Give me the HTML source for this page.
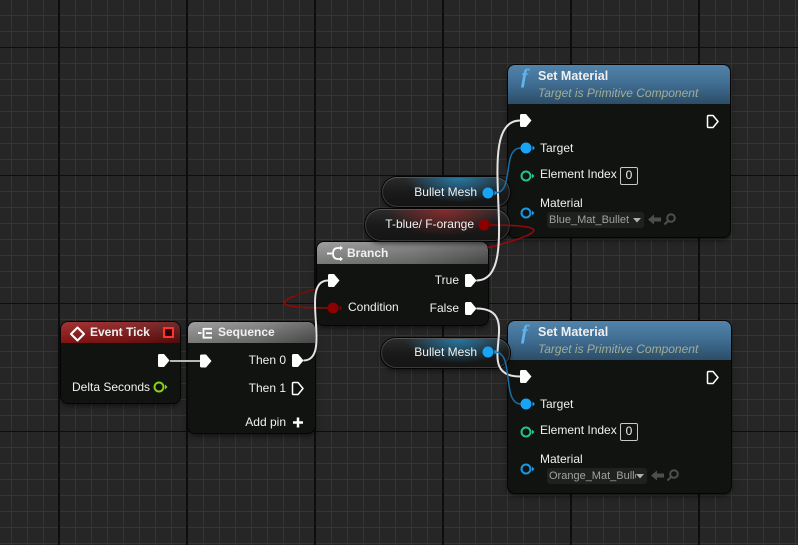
<!DOCTYPE html>
<html><head><meta charset="utf-8">
<style>
html,body{margin:0;padding:0;}
body{width:798px;height:545px;overflow:hidden;position:relative;background:#262626;font-family:"Liberation Sans",sans-serif;}
#grid{position:absolute;left:0;top:0;width:798px;height:545px;
background-image:
 linear-gradient(to right,#0d0d0d 0,#0d0d0d 2px,transparent 2px),
 linear-gradient(to bottom,#0d0d0d 0,#0d0d0d 1px,transparent 1px),
 linear-gradient(to right,#353535 0,#353535 1px,transparent 1px),
 linear-gradient(to bottom,#353535 0,#353535 1px,transparent 1px);
background-size:128px 545px,798px 128px,16px 545px,798px 16px;
background-position:58px 0,0 47px,11px 0,0 15px;}
.node{position:absolute;background:#111311;border-radius:7px;box-shadow:0 0 0 1px #050505,0 3px 6px rgba(0,0,0,.55);}
.hdr{position:absolute;left:0;top:0;right:0;border-radius:7px 7px 0 0;}
.red{background:linear-gradient(to bottom,rgba(255,255,255,.12),rgba(0,0,0,.15)),linear-gradient(to right,#941818 0%,#821414 55%,#5a0e0e 100%);}
.gray{background:linear-gradient(to bottom,rgba(255,255,255,.18),rgba(0,0,0,.12)),linear-gradient(to right,#8a8a8a 0%,#737373 55%,#4e4e4e 100%);}
.blue{background:linear-gradient(to bottom,#5283aa 0%,#416f94 45%,#2c4d68 100%);}
.pill{position:absolute;border-radius:16px;box-shadow:0 0 0 1px #050505,inset 0 1px 0 #555,inset 0 0 0 1px #3a3a3a,0 3px 5px rgba(0,0,0,.5);}
.t{position:absolute;color:#f0f0f0;font-size:12px;line-height:14px;white-space:nowrap;}
.b{font-weight:bold;}
.sub{position:absolute;color:#a2ad95;font-size:12px;line-height:14px;font-style:italic;white-space:nowrap;}
.f{position:absolute;color:#62b4f0;font-family:"Liberation Serif",serif;font-style:italic;font-weight:bold;font-size:21px;line-height:20px;}
.box{position:absolute;border:1px solid #c8c8c8;border-radius:2px;color:#eee;font-size:12px;line-height:15px;text-align:center;box-sizing:border-box;}
.dd{position:absolute;background:#1f211f;border-radius:3px;color:#a0a0a0;font-size:11px;line-height:16px;white-space:nowrap;overflow:hidden;box-sizing:border-box;padding-left:2px;}
svg{position:absolute;left:0;top:0;}
</style></head>
<body>
<div id="grid"></div>

<svg width="798" height="545">
<path d="M490,225 C690,225 128,308 328,308" stroke="#7e0a0a" stroke-width="1.5" fill="none"/>
</svg>

<div class="node" style="left:61px;top:322px;width:119px;height:81px;">
 <div class="hdr red" style="height:21px;"></div>
</div>
<div class="node" style="left:188px;top:322px;width:127px;height:111px;">
 <div class="hdr gray" style="height:21px;"></div>
</div>
<div class="node" style="left:317px;top:242px;width:171px;height:83px;">
 <div class="hdr gray" style="height:22px;"></div>
</div>
<div class="node" style="left:508px;top:65px;width:222px;height:172px;">
 <div class="hdr blue" style="height:39px;"></div>
</div>
<div class="node" style="left:508px;top:321px;width:223px;height:172px;">
 <div class="hdr blue" style="height:39px;"></div>
</div>

<div class="pill" style="left:382px;top:177px;width:128px;height:30px;background:radial-gradient(ellipse 42% 85% at 60% 0%,rgba(40,130,180,.9),rgba(40,130,180,0) 100%),linear-gradient(#2c2c2c,#1a1a1a 50%,#141414);"></div>
<div class="pill" style="left:365px;top:209px;width:145px;height:32px;background:radial-gradient(ellipse 40% 85% at 55% 0%,rgba(150,45,45,.85),rgba(150,45,45,0) 100%),linear-gradient(#2c2c2c,#1a1a1a 50%,#141414);"></div>
<div class="pill" style="left:381px;top:338px;width:129px;height:30px;background:radial-gradient(ellipse 42% 85% at 60% 0%,rgba(40,130,180,.9),rgba(40,130,180,0) 100%),linear-gradient(#2c2c2c,#1a1a1a 50%,#141414);"></div>

<div class="box" style="left:620px;top:167px;width:18px;height:18px;">0</div>
<div class="box" style="left:620px;top:423px;width:18px;height:18px;">0</div>
<div class="dd" style="left:547px;top:212px;width:97px;height:16px;">Blue_Mat_Bullet</div>
<div class="dd" style="left:547px;top:468px;width:100px;height:16px;"><span style="display:inline-block;width:87px;overflow:hidden;vertical-align:top;">Orange_Mat_Bullet</span></div>

<svg width="798" height="545">
<defs>
 <clipPath id="rc"><rect x="487" y="0" width="311" height="545"/><rect x="0" y="296" width="334" height="249"/></clipPath>
</defs>
<path d="M490,225 C690,225 128,308 328,308" stroke="#8c0b0b" stroke-width="1.6" fill="none" clip-path="url(#rc)"/>
<path d="M170,361 H200" stroke="#b8b8b8" stroke-width="2" fill="none"/>
<path d="M303.5,360.5 C333.5,360.5 298,280.5 328,280.5" stroke="#e4e4e4" stroke-width="2" fill="none"/>
<path d="M476.5,280.5 C526.5,280.5 470,120.5 520,120.5" stroke="#e4e4e4" stroke-width="2" fill="none"/>
<path d="M476.5,308.5 C526.5,308.5 470,376.5 520,376.5" stroke="#e4e4e4" stroke-width="2" fill="none"/>
<path d="M495,193 C515,193 501,148 521,148" stroke="#1a6ea3" stroke-width="1.5" fill="none"/>
<path d="M495,352 C515,352 501,404 521,404" stroke="#1a6ea3" stroke-width="1.5" fill="none"/>

<g fill="#ffffff">
<path d="M159.5,354 H164 L169.5,360.5 L164,367 H159.5 Q158,367 158,365.5 V355.5 Q158,354 159.5,354 Z"/>
<path d="M201.5,354.5 H206 L211.5,361 L206,367.5 H201.5 Q200,367.5 200,366 V356 Q200,354.5 201.5,354.5 Z"/>
<path d="M293.5,354 H298 L303.5,360.5 L298,367 H293.5 Q292,367 292,365.5 V355.5 Q292,354 293.5,354 Z"/>
<path d="M329.5,274 H334 L339.5,280.5 L334,287 H329.5 Q328,287 328,285.5 V275.5 Q328,274 329.5,274 Z"/>
<path d="M466.5,274 H471 L476.5,280.5 L471,287 H466.5 Q465,287 465,285.5 V275.5 Q465,274 466.5,274 Z"/>
<path d="M466.5,302 H471 L476.5,308.5 L471,315 H466.5 Q465,315 465,313.5 V303.5 Q465,302 466.5,302 Z"/>
<path d="M521.5,114 H526 L531.5,120.5 L526,127 H521.5 Q520,127 520,125.5 V115.5 Q520,114 521.5,114 Z"/>
<path d="M521.5,370 H526 L531.5,376.5 L526,383 H521.5 Q520,383 520,381.5 V371.5 Q520,370 521.5,370 Z"/>
</g>
<g fill="none" stroke="#ffffff" stroke-width="1.5" stroke-linejoin="round">
<path d="M293.5,382.5 H298 L303,388.5 L298,394.5 H293.5 Q292.5,394.5 292.5,393.5 V383.5 Q292.5,382.5 293.5,382.5 Z"/>
<path d="M708.5,115.5 H713 L718,121.5 L713,127.5 H708.5 Q707.5,127.5 707.5,126.5 V116.5 Q707.5,115.5 708.5,115.5 Z"/>
<path d="M708.5,371.5 H713 L718,377.5 L713,383.5 H708.5 Q707.5,383.5 707.5,382.5 V372.5 Q707.5,371.5 708.5,371.5 Z"/>
</g>

<circle cx="159" cy="387" r="4.5" fill="none" stroke="#86d01e" stroke-width="2"/>
<polygon points="165,384.5 167.5,387 165,389.5" fill="#86d01e"/>
<circle cx="333" cy="308" r="5.5" fill="#8c0000"/>
<polygon points="339.5,305.5 342,308 339.5,310.5" fill="#8c0000"/>
<circle cx="488" cy="193" r="5.5" fill="#19a3f5"/>
<polygon points="494.5,190.5 497,193 494.5,195.5" fill="#19a3f5"/>
<circle cx="488" cy="352" r="5.5" fill="#19a3f5"/>
<polygon points="494.5,349.5 497,352 494.5,354.5" fill="#19a3f5"/>
<circle cx="484" cy="225" r="5.5" fill="#8c0000"/>
<polygon points="490.5,222.5 493,225 490.5,227.5" fill="#8c0000"/>
<circle cx="526" cy="148" r="5.5" fill="#19a3f5"/>
<polygon points="532.5,145.5 535,148 532.5,150.5" fill="#19a3f5"/>
<circle cx="526" cy="176" r="4.5" fill="none" stroke="#22c68c" stroke-width="2"/>
<polygon points="532,173.5 534.5,176 532,178.5" fill="#22c68c"/>
<circle cx="526" cy="213" r="4.5" fill="none" stroke="#1a98e6" stroke-width="2"/>
<polygon points="532,210.5 534.5,213 532,215.5" fill="#1a98e6"/>
<circle cx="526" cy="404" r="5.5" fill="#19a3f5"/>
<polygon points="532.5,401.5 535,404 532.5,406.5" fill="#19a3f5"/>
<circle cx="526" cy="432" r="4.5" fill="none" stroke="#22c68c" stroke-width="2"/>
<polygon points="532,429.5 534.5,432 532,434.5" fill="#22c68c"/>
<circle cx="526" cy="469" r="4.5" fill="none" stroke="#1a98e6" stroke-width="2"/>
<polygon points="532,466.5 534.5,469 532,471.5" fill="#1a98e6"/>

<path d="M298,417.5 V427.5 M293,422.5 H303" stroke="#ffffff" stroke-width="2.5"/>

<polygon points="77.5,327.5 84,334 77.5,340.5 71,334" fill="none" stroke="#ffffff" stroke-width="2" stroke-linejoin="round"/>
<rect x="164" y="328" width="9" height="9" fill="#2a0404" stroke="#ff3232" stroke-width="2"/>
<g stroke="#ffffff" stroke-width="1.8" fill="none">
<path d="M198,333 H201.5"/>
<path d="M203.5,328 V338.5"/>
<path d="M203.5,328.8 H212 M206,333.2 H212 M203.5,337.7 H212"/>
</g>
<g stroke="#ffffff" stroke-width="1.8" fill="none">
<path d="M327,253.5 H332"/>
<path d="M341,248 H338 Q333,248 333,253.5 Q333,259 338,259 H341"/>
</g>
<polygon points="340,245.8 343,248 340,250.2" fill="#fff"/>
<polygon points="340,256.8 343,259 340,261.2" fill="#fff"/>

<polygon points="633,218 641,218 637,222.5" fill="#b0b0b0"/>
<polygon points="636,474 644,474 640,478.5" fill="#b0b0b0"/>
<g fill="#4e4e4e">
<polygon points="648,219.5 654,214.5 654,217.5 661,217.5 661,221.5 654,221.5 654,224.5"/>
<polygon points="651,475.5 657,470.5 657,473.5 664,473.5 664,477.5 657,477.5 657,480.5"/>
</g>
<g stroke="#4e4e4e" stroke-width="2" fill="none">
<circle cx="671" cy="218" r="3.8"/><path d="M668,221 L664.5,224.5"/>
<circle cx="674" cy="474" r="3.8"/><path d="M671,477 L667.5,480.5"/>
</g>
</svg>

<div class="t b" style="left:90px;top:325px;">Event Tick</div>
<div class="t" style="left:72px;top:380px;">Delta Seconds</div>

<div class="t b" style="left:218px;top:325px;">Sequence</div>
<div class="t" style="right:512px;top:353px;">Then 0</div>
<div class="t" style="right:512px;top:381px;">Then 1</div>
<div class="t" style="right:512px;top:415px;">Add pin</div>

<div class="t b" style="left:347px;top:246px;">Branch</div>
<div class="t" style="left:348px;top:300px;">Condition</div>
<div class="t" style="right:339px;top:273px;">True</div>
<div class="t" style="right:339px;top:301px;">False</div>

<div class="t" style="right:321px;top:185px;">Bullet Mesh</div>
<div class="t" style="right:324px;top:217px;">T-blue/ F-orange</div>
<div class="t" style="right:321px;top:345px;">Bullet Mesh</div>

<div class="f" style="left:521px;top:66px;">f</div>
<div class="t b" style="left:538px;top:69px;font-size:12.5px;">Set Material</div>
<div class="sub" style="left:538px;top:86px;">Target is Primitive Component</div>
<div class="t" style="left:540px;top:141px;">Target</div>
<div class="t" style="left:540px;top:167px;">Element Index</div>
<div class="t" style="left:540px;top:196px;">Material</div>

<div class="f" style="left:521px;top:322px;">f</div>
<div class="t b" style="left:538px;top:325px;font-size:12.5px;">Set Material</div>
<div class="sub" style="left:538px;top:342px;">Target is Primitive Component</div>
<div class="t" style="left:540px;top:397px;">Target</div>
<div class="t" style="left:540px;top:423px;">Element Index</div>
<div class="t" style="left:540px;top:452px;">Material</div>
</body></html>
